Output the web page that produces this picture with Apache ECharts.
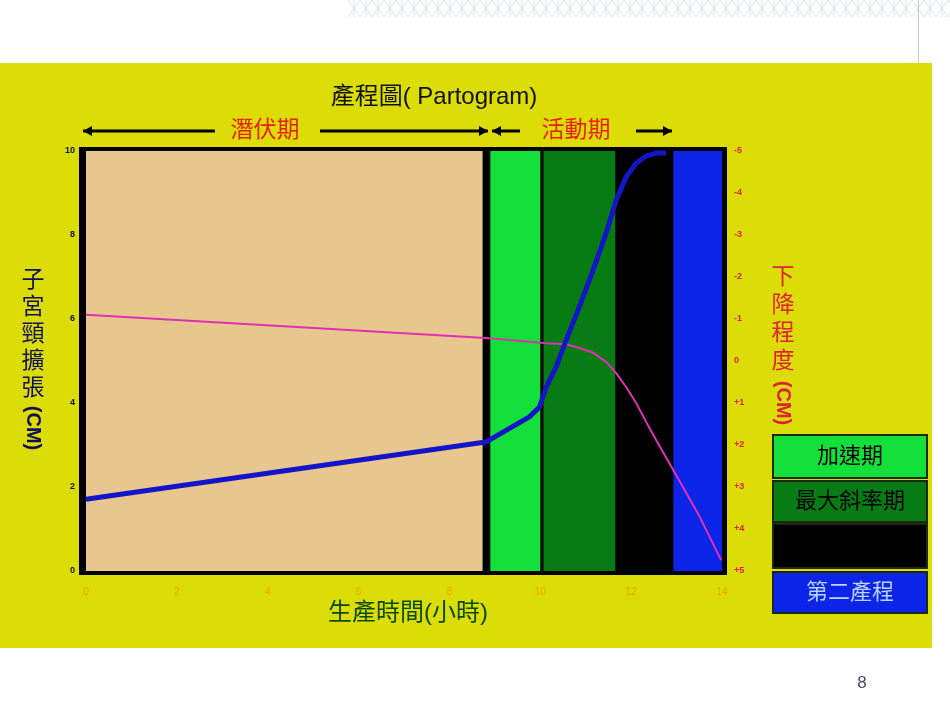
<!DOCTYPE html>
<html>
<head>
<meta charset="utf-8">
<script src="https://cdn.jsdelivr.net/npm/echarts@6/dist/echarts.min.js"></script>
<style>html,body{margin:0;padding:0;background:#fff;}#c{width:950px;height:713px;}</style>
</head>
<body>
<div id="c"></div>
<script>
// ---- data ----
const xTicks = [0, 2, 4, 6, 8, 10, 12, 14];
const dilationHours = [0, 8.8, 9.38, 9.76, 9.98, 10.13, 10.35, 10.57, 10.86, 11.14, 11.45, 11.67, 11.89, 12.11, 12.33, 12.55, 12.77];
const dilationCm = [1.71, 3.07, 3.43, 3.67, 3.9, 4.38, 4.86, 5.5, 6.29, 7.1, 8.05, 8.83, 9.38, 9.71, 9.88, 9.95, 9.95];
const descentHours = [0, 8.8, 10.07, 10.57, 10.86, 11.14, 11.45, 11.67, 11.89, 12.11, 12.33, 12.55, 13.05, 13.49, 13.98];
const descentCm = [-1.1, -0.55, -0.43, -0.4, -0.31, -0.21, 0.02, 0.29, 0.62, 1.0, 1.45, 1.88, 2.83, 3.67, 4.74];
const bandNames = ['潛伏期', '加速期', '最大斜率期', '第二產程'];
const bandStart = [0, 8.9, 10.07, 12.93];
const bandEnd = [8.73, 10.0, 11.65, 14];
const bandColors = ['#e8c78e', '#14e03c', '#087c14', '#0c24e8'];
const legendNames = ['加速期', '最大斜率期', '', '第二產程'];
const legendColors = ['#14e03c', '#087c14', '#000000', '#0c24e8'];
const legendTextColors = ['#000000', '#000000', '#000000', '#b8d4ff'];

const cjk = '"Liberation Sans", "Noto Sans CJK TC", sans-serif';

function makePattern() {
  const cv = document.createElement('canvas');
  cv.width = 12; cv.height = 17;
  const g = cv.getContext('2d');
  g.strokeStyle = '#dde1e8'; g.lineWidth = 1;
  g.beginPath(); g.moveTo(0, 0); g.lineTo(12, 17); g.moveTo(12, 0); g.lineTo(0, 17);
  g.moveTo(6, 0); g.lineTo(6, 17); g.stroke();
  return cv;
}

function arrow(x1, x2, y, headAt) {
  const hx = headAt === 'left' ? x1 : x2;
  const dir = headAt === 'left' ? 1 : -1;
  return [
    { type: 'line', z: 5, shape: { x1: x1, y1: y, x2: x2, y2: y }, style: { stroke: '#000', lineWidth: 3 } },
    { type: 'polygon', z: 5, shape: { points: [[hx, y], [hx + dir * 9, y - 5], [hx + dir * 9, y + 5]] }, style: { fill: '#000' } }
  ];
}

const graphics = [
  { type: 'rect', z: -10, shape: { x: 0, y: 63, width: 932, height: 585 }, style: { fill: '#dcdc06' } },
  { type: 'rect', z: -10, shape: { x: 348, y: 0, width: 602, height: 17 }, style: { fill: { image: makePattern(), repeat: 'repeat' } } },
  { type: 'line', z: -10, shape: { x1: 918.5, y1: 0, x2: 918.5, y2: 63 }, style: { stroke: '#c8ccd4', lineWidth: 1 } },
  { type: 'rect', z: -9, shape: { x: 79, y: 147, width: 648, height: 428 }, style: { fill: '#000' } },
  { type: 'text', z: 5, x: 434, y: 97, style: { text: '產程圖( Partogram)', font: '24px ' + cjk, fill: '#101010', textAlign: 'center', textVerticalAlign: 'middle' } },
  ...arrow(83, 215, 131, 'left'),
  { type: 'text', z: 5, x: 265, y: 131, style: { text: '潛伏期', font: '23px ' + cjk, fill: '#e8200c', textAlign: 'center', textVerticalAlign: 'middle' } },
  ...arrow(320, 488, 131, 'right'),
  ...arrow(492, 520, 131, 'left'),
  { type: 'text', z: 5, x: 576, y: 131, style: { text: '活動期', font: '23px ' + cjk, fill: '#e8200c', textAlign: 'center', textVerticalAlign: 'middle' } },
  ...arrow(636, 672, 131, 'right'),
  { type: 'text', z: 5, x: 33, y: 267, style: { text: '子\n宮\n頸\n擴\n張', font: '23px ' + cjk, lineHeight: 27, fill: '#101058', textAlign: 'center', textVerticalAlign: 'top' } },
  { type: 'text', z: 5, x: 33, y: 428, rotation: -Math.PI / 2, style: { text: '(CM)', font: 'bold 20px ' + cjk, fill: '#101058', textAlign: 'center', textVerticalAlign: 'middle' } },
  { type: 'text', z: 5, x: 783, y: 264, style: { text: '下\n降\n程\n度', font: '23px ' + cjk, lineHeight: 28, fill: '#e0203c', textAlign: 'center', textVerticalAlign: 'top' } },
  { type: 'text', z: 5, x: 783, y: 403, rotation: -Math.PI / 2, style: { text: '(CM)', font: 'bold 20px ' + cjk, fill: '#e0203c', textAlign: 'center', textVerticalAlign: 'middle' } },
  { type: 'text', z: 5, x: 408, y: 613, style: { text: '生產時間(小時)', font: '24px ' + cjk, fill: '#0a4a0a', textAlign: 'center', textVerticalAlign: 'middle' } },
  { type: 'text', z: 5, x: 862, y: 683, style: { text: '8', font: '17px "Liberation Sans", sans-serif', fill: '#4a4a6a', textAlign: 'center', textVerticalAlign: 'middle' } }
];
const boxY = [435, 481, 524, 572];
const boxH = [43, 41, 44, 41];
legendNames.forEach(function (n, i) {
  graphics.push({ type: 'rect', z: 5, shape: { x: 773, y: boxY[i], width: 154, height: boxH[i] }, style: { fill: legendColors[i], stroke: '#1a2a10', lineWidth: 2 } });
  if (n) graphics.push({ type: 'text', z: 6, x: 850, y: boxY[i] + boxH[i] / 2, style: { text: n, font: '22px ' + cjk, fill: legendTextColors[i], textAlign: 'center', textVerticalAlign: 'middle' } });
});

const chart = echarts.init(document.getElementById('c'), null, { renderer: 'canvas' });
chart.setOption({
  backgroundColor: '#ffffff',
  animation: false,
  grid: { left: 86, right: 228, top: 151, bottom: 142, show: false },
  xAxis: {
    type: 'value', min: 0, max: 14, interval: 2,
    axisLine: { show: false }, axisTick: { show: false }, splitLine: { show: false },
    axisLabel: { color: '#f0a000', fontSize: 10, margin: 16, fontFamily: 'Liberation Sans', formatter: function (v) { return xTicks.indexOf(v) >= 0 ? String(v) : ''; } }
  },
  yAxis: [
    {
      type: 'value', min: 0, max: 10, interval: 2, position: 'left',
      axisLine: { show: false }, axisTick: { show: false }, splitLine: { show: false },
      axisLabel: { color: '#101050', fontSize: 9, fontWeight: 'bold', margin: 11, fontFamily: 'Liberation Sans' }
    },
    {
      type: 'value', min: -5, max: 5, interval: 1, inverse: true, position: 'right',
      axisLine: { show: false }, axisTick: { show: false }, splitLine: { show: false },
      axisLabel: { color: '#e0204a', fontSize: 9, fontWeight: 'bold', margin: 12, fontFamily: 'Liberation Sans', align: 'left',
        formatter: function (v) { return v > 0 ? '+' + v : String(v); } }
    }
  ],
  graphic: { elements: graphics },
  series: [
    {
      type: 'line', name: 'bands', data: [], silent: true,
      markArea: {
        silent: true,
        data: bandNames.map(function (n, i) {
          return [{ xAxis: bandStart[i], itemStyle: { color: bandColors[i] } }, { xAxis: bandEnd[i] }];
        })
      }
    },
    {
      type: 'line', name: '下降程度', yAxisIndex: 1, showSymbol: false, smooth: false,
      data: descentHours.map(function (h, i) { return [h, descentCm[i]]; }),
      lineStyle: { color: '#e030b4', width: 2 }, z: 3
    },
    {
      type: 'line', name: '子宮頸擴張', yAxisIndex: 0, showSymbol: false, smooth: false,
      data: dilationHours.map(function (h, i) { return [h, dilationCm[i]]; }),
      lineStyle: { color: '#1414c8', width: 5, join: 'round' }, z: 4
    }
  ]
});
</script>
</body>
</html>
